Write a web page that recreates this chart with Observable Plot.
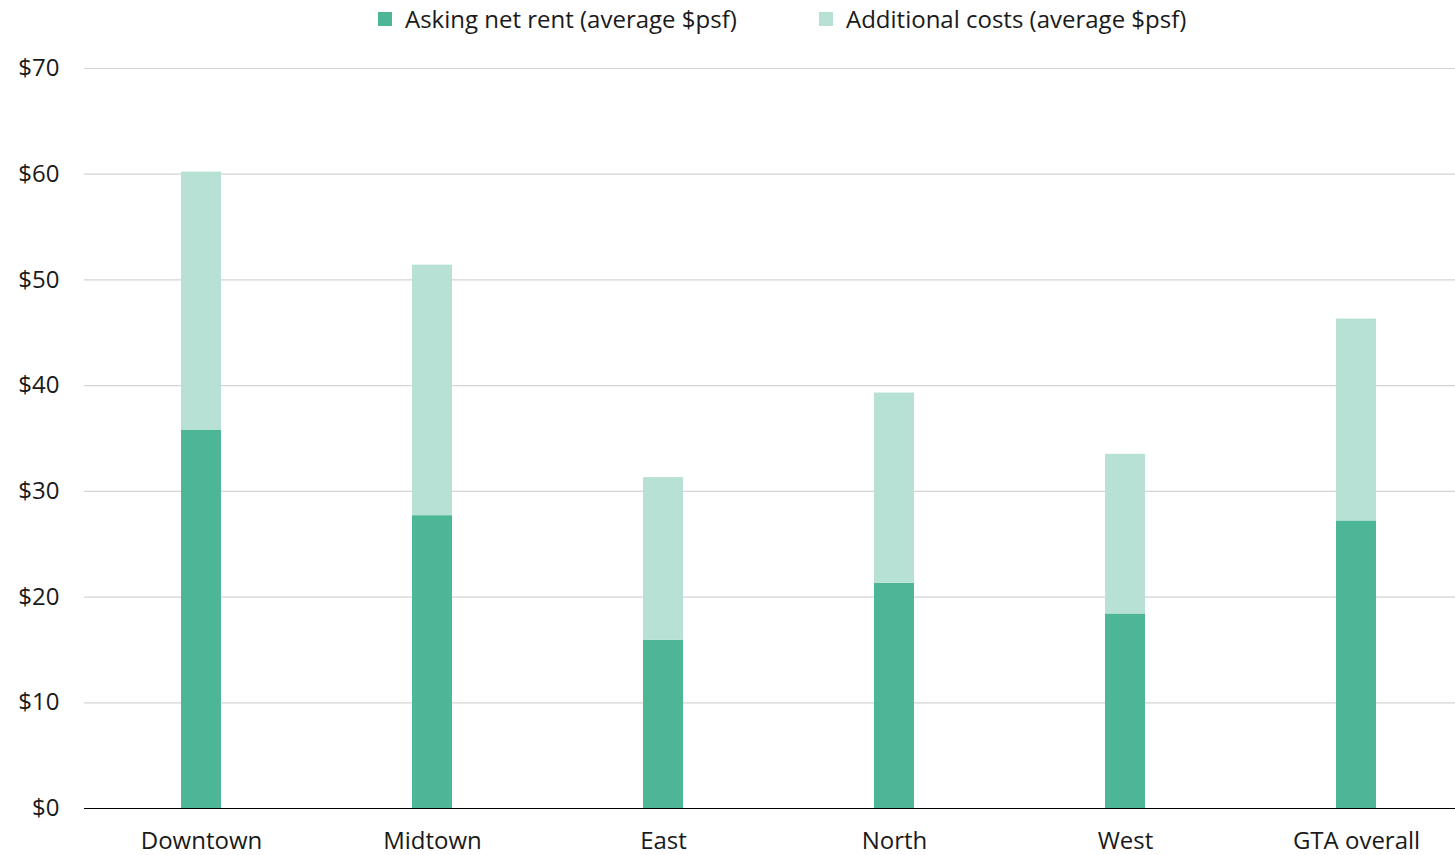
<!DOCTYPE html>
<html>
<head>
<meta charset="utf-8">
<script src="https://cdn.jsdelivr.net/npm/d3@7"></script>
<script src="https://cdn.jsdelivr.net/npm/@observablehq/plot@0.6"></script>
<style>
  html, body { margin: 0; padding: 0; background: #fff; overflow: hidden; }
  body { font-family: "Open Sans", sans-serif; color: #1a1a1a; }
  #legend { height: 40px; position: relative; font-size: 24px; }
  .item { position: absolute; top: 2px; display: flex; align-items: center; white-space: nowrap; }
  .sw { width: 14px; height: 14px; margin-right: 13px; }
</style>
</head>
<body>
<div id="legend"></div>
<div id="chart"></div>
<script>
const regions = ["Downtown", "Midtown", "East", "North", "West", "GTA overall"];
const netRent = [35.8, 27.7, 15.9, 21.3, 18.4, 27.2];
const additionalCosts = [24.4, 23.7, 15.4, 18.0, 15.1, 19.1];
const seriesNames = ["Asking net rent (average $psf)", "Additional costs (average $psf)"];
const seriesColors = ["#4db697", "#b7e1d5"];
const yTicks = [0, 10, 20, 30, 40, 50, 60, 70];

const data = [];
regions.forEach((r, i) => {
  data.push({region: r, series: seriesNames[0], value: netRent[i], order: 0});
  data.push({region: r, series: seriesNames[1], value: additionalCosts[i], order: 1});
});

// legend
const legend = document.getElementById("legend");
const legendX = [378, 819];
seriesNames.forEach((s, i) => {
  const d = document.createElement("div");
  d.className = "item";
  d.style.left = legendX[i] + "px";
  d.innerHTML = `<span class="sw" style="background:${seriesColors[i]}"></span><span>${s}</span>`;
  legend.appendChild(d);
});

const chart = Plot.plot({
  width: 1455,
  height: 815,
  marginTop: 28,
  marginBottom: 47,
  marginLeft: 84,
  marginRight: 0,
  style: {fontFamily: "Open Sans", fontSize: "24px", color: "#1a1a1a", background: "transparent"},
  x: {domain: regions, range: [84.3, 1471.7], paddingInner: 0.827, paddingOuter: 0.4135, label: null},
  y: {domain: [0, 70], label: null},
  color: {domain: seriesNames, range: seriesColors},
  marks: [
    Plot.ruleY(yTicks.filter(d => d > 0), {stroke: "#d4d4d4", strokeWidth: 1.2}),
    Plot.barY(data, Plot.stackY({x: "region", y: "value", fill: "series", order: "order"})),
    Plot.ruleY([0], {stroke: "#000", strokeWidth: 1.2}),
    Plot.axisY({ticks: yTicks, tickFormat: d => "$" + d, tickSize: 0, tickPadding: 25, label: null, fontSize: 24}),
    Plot.axisX({tickSize: 0, tickPadding: 23, label: null, fontSize: 24})
  ]
});
document.getElementById("chart").appendChild(chart);
</script>
</body>
</html>
